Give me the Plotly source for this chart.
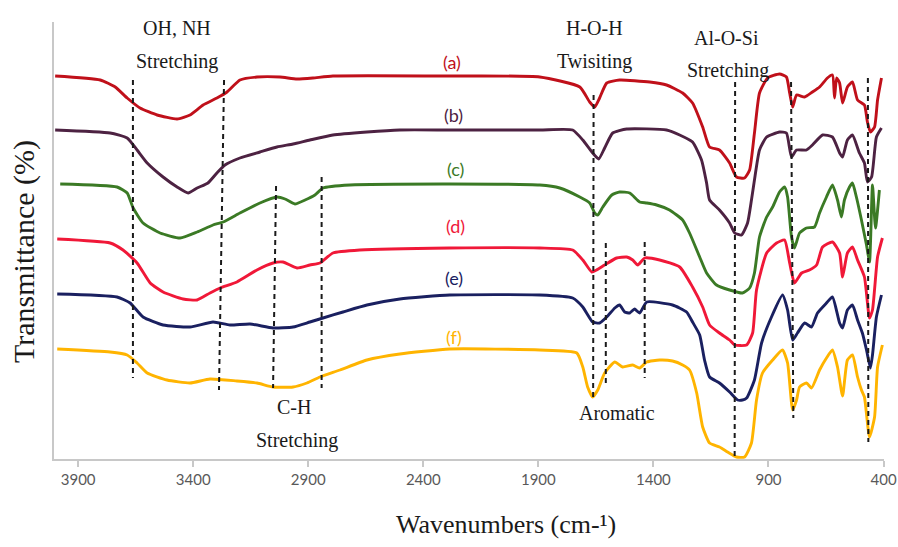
import plotly.graph_objects as go

# ---------------- data (wavenumber in cm-1, transmittance in arbitrary offset units) ----------------
wn_a = [4000, 3804, 3739, 3687, 3631, 3557, 3470, 3414, 3357, 3297, 3253, 3197, 3123, 3023, 2949, 2880, 2793, 2285,
        1894, 1720, 1677, 1655, 1634, 1603, 1547, 1416, 1343, 1273, 1230, 1186, 1156, 1113, 1069, 1039, 1004, 982, 961,
        939, 904, 852, 822, 808, 795, 778, 743, 709, 678, 644, 622, 613, 604, 591, 578, 557, 535, 513, 483, 470, 457,
        439, 426, 409]
t_a = [383, 379, 372, 361, 351, 344, 340, 344, 354, 361, 367, 379, 382, 382, 380, 381, 383, 383,
       382, 372, 357, 352, 361, 376, 379, 377, 374, 366, 356, 332, 312, 309, 296, 282, 281, 289, 326,
       366, 381, 385, 382, 366, 352, 364, 362, 367, 372, 381, 384, 361, 381, 376, 356, 372, 377, 359, 354, 337, 327,
       332, 359, 381]

wn_b = [4000, 3761, 3687, 3644, 3600, 3531, 3470, 3422, 3383, 3336, 3297, 3262, 3197, 3110, 3036, 2966, 2893, 2793,
        2645, 2502, 2285, 1894, 1751, 1707, 1664, 1638, 1612, 1577, 1516, 1343, 1286, 1230, 1191, 1169, 1156, 1113,
        1069, 1047, 1017, 991, 974, 961, 939, 908, 852, 822, 800, 778, 735, 709, 665, 622, 591, 578, 557, 535, 505,
        483, 470, 452, 431, 409]
t_b = [329, 326, 321, 309, 296, 282, 272, 266, 271, 276, 286, 294, 301, 307, 312, 315, 319, 324,
       327, 329, 329, 329, 329, 319, 306, 300, 311, 326, 330, 329, 324, 317, 299, 276, 259, 249,
       236, 226, 224, 236, 259, 279, 309, 322, 327, 326, 302, 309, 309, 314, 324, 322, 306, 302, 319, 324, 306,
       296, 277, 282, 322, 331]

wn_c = [3978, 3731, 3687, 3661, 3618, 3544, 3457, 3383, 3314, 3270, 3197, 3110, 3036, 3001, 2958, 2914, 2871, 2836,
        2719, 2285, 1894, 1807, 1720, 1677, 1655, 1642, 1620, 1581, 1547, 1503, 1460, 1429, 1386, 1330, 1273, 1243,
        1199, 1169, 1126, 1069, 1013, 982, 961, 939, 908, 882, 852, 830, 817, 800, 787, 765, 735, 700, 678, 648, 622,
        600, 583, 570, 548, 535, 518, 496, 474, 461, 448, 435, 418]
t_c = [275, 272, 266, 251, 236, 226, 221, 227, 234, 237, 246, 256, 262, 260, 255, 259, 264, 271,
       274, 275, 274, 271, 262, 256, 246, 244, 252, 264, 267, 266, 257, 256, 254, 249, 239, 226,
       202, 186, 174, 169, 166, 171, 186, 222, 242, 252, 267, 272, 262, 222, 211, 226, 231, 232, 246, 262, 274,
       259, 242, 259, 272, 276, 262, 239, 214, 197, 274, 231, 269]

wn_d = [3991, 3761, 3705, 3644, 3587, 3531, 3444, 3383, 3327, 3283, 3210, 3123, 3053, 3010, 2949, 2893, 2849, 2793,
        2676, 2285, 1894, 1751, 1707, 1668, 1647, 1612, 1560, 1516, 1490, 1468, 1438, 1373, 1286, 1230, 1186, 1156,
        1113, 1069, 1047, 995, 969, 952, 908, 865, 830, 808, 787, 756, 722, 691, 665, 622, 591, 578, 557, 535, 513,
        483, 461, 448, 426, 405]
t_d = [220, 216, 209, 196, 176, 167, 160, 159, 166, 171, 177, 189, 196, 197, 191, 194, 196, 206,
       209, 211, 211, 209, 199, 187, 189, 194, 201, 202, 199, 194, 201, 199, 192, 172, 152, 134,
       126, 119, 114, 114, 126, 169, 206, 216, 219, 196, 176, 186, 189, 194, 212, 217, 206, 182, 206, 212, 199,
       182, 141, 149, 202, 221]

wn_e = [3991, 3731, 3674, 3618, 3531, 3414, 3314, 3240, 3153, 3053, 2966, 2893, 2836, 2749, 2645, 2502, 2285, 1894,
        1751, 1707, 1664, 1634, 1603, 1568, 1547, 1525, 1503, 1482, 1460, 1429, 1317, 1256, 1230, 1199, 1178, 1156,
        1113, 1069, 1034, 1013, 995, 961, 930, 887, 839, 817, 795, 774, 743, 713, 687, 648, 622, 591, 578, 557, 535,
        513, 492, 474, 457, 448, 431, 409]
t_e = [165, 162, 156, 142, 134, 132, 137, 134, 135, 131, 132, 137, 141, 147, 154, 160, 164, 164,
       161, 152, 137, 136, 142, 151, 154, 147, 146, 150, 146, 157, 154, 147, 137, 124, 99, 82,
       76, 67, 59, 59, 61, 79, 116, 142, 164, 149, 119, 126, 136, 132, 146, 156, 162, 136, 131, 149, 154,
       139, 126, 109, 91, 104, 142, 164]

wn_f = [3991, 3761, 3687, 3644, 3600, 3514, 3414, 3327, 3210, 3123, 3053, 2966, 2906, 2849, 2762, 2645, 2502, 2285,
        1894, 1733, 1707, 1686, 1664, 1642, 1612, 1568, 1534, 1490, 1460, 1429, 1373, 1317, 1273, 1243, 1212, 1186,
        1156, 1113, 1078, 1039, 1004, 974, 952, 926, 882, 839, 817, 795, 778, 765, 735, 713, 678, 648, 622, 600, 578,
        557, 535, 513, 496, 483, 461, 439, 426, 405]
t_f = [110, 107, 104, 96, 86, 79, 76, 80, 78, 76, 72, 72, 76, 82, 89, 99, 105, 110,
       109, 106, 92, 72, 62, 69, 86, 97, 92, 94, 91, 97, 99, 98, 94, 89, 66, 32,
       16, 12, 7, 2, 2, 16, 59, 86, 99, 109, 96, 49, 59, 72, 76, 71, 89, 101, 109, 92, 63,
       99, 104, 82, 69, 62, 22, 42, 92, 114]

series_names = ["(a)", "(b)", "(c)", "(d)", "(e)", "(f)"]
series_colors = ["#c0101a", "#4d2242", "#3b7a25", "#f01838", "#1a2060", "#ffb400"]
series_wn = [wn_a, wn_b, wn_c, wn_d, wn_e, wn_f]
series_t = [t_a, t_b, t_c, t_d, t_e, t_f]
label_wn = [2275, 2270, 2262, 2262, 2266, 2266]
label_t = [397, 344, 290, 233, 181, 122]

# dashed marker lines
dash_wn_top = [3662, 3266, 3040, 2842, 1660, 1607, 1438, 1045, 802, 468]
dash_wn_bot = [3662, 3288, 3053, 2842, 1662, 1607, 1438, 1047, 792, 466]
dash_t_top = [379, 379, 273, 282, 364, 216, 217, 377, 377, 381]
dash_t_bot = [81, 69, 71, 71, 62, 73, 81, 1, 41, 17]

note_text = ["OH, NH", "Stretching", "H-O-H", "Twisiting", "Al-O-Si", "Stretching", "C-H", "Stretching", "Aromatic"]
note_wn = [3470, 3470, 1655, 1655, 1082, 1078, 2960, 2950, 1560]
note_t = [431, 398, 431, 398, 421, 389, 52, 19, 46]

tick_vals = [3900, 3400, 2900, 2400, 1900, 1400, 900, 400]
x_title = "Wavenumbers (cm-¹)"
y_title = "Transmittance (%)"

# ---------------- figure ----------------
fig = go.Figure()
for name, col, xs, ys in zip(series_names, series_colors, series_wn, series_t):
    fig.add_trace(go.Scatter(x=xs, y=ys, mode="lines", name=name,
                             line=dict(color=col, width=2.9, shape="spline", smoothing=0.5),
                             showlegend=False, hoverinfo="skip"))

shapes = []
for x0, x1, y0, y1 in zip(dash_wn_top, dash_wn_bot, dash_t_top, dash_t_bot):
    shapes.append(dict(type="line", xref="x", yref="y", x0=x0, x1=x1, y0=y0, y1=y1,
                       line=dict(color="#1a1a1a", width=2, dash="5px,4px"), layer="above"))

annotations = []
for txt, xw, yt in zip(note_text, note_wn, note_t):
    annotations.append(dict(x=xw, y=yt, xref="x", yref="y", text=txt, showarrow=False,
                            font=dict(family="Liberation Serif", size=20, color="#1a1a1a"),
                            xanchor="center", yanchor="middle"))
for name, col, xw, yt in zip(series_names, series_colors, label_wn, label_t):
    annotations.append(dict(x=xw, y=yt, xref="x", yref="y", text=name, showarrow=False,
                            font=dict(family="Lato", size=18, color=col),
                            xanchor="center", yanchor="middle"))
annotations.append(dict(x=0.5446, y=-0.151, xref="paper", yref="paper", text=x_title, showarrow=False,
                        font=dict(family="Liberation Serif", size=26, color="#1a1a1a"),
                        xanchor="center", yanchor="middle"))
annotations.append(dict(x=-0.036, y=0.474, xref="paper", yref="paper", text=y_title, showarrow=False,
                        textangle=-90,
                        font=dict(family="Liberation Serif", size=30, color="#1a1a1a"),
                        xanchor="center", yanchor="middle"))

fig.update_layout(
    width=898, height=547,
    margin=dict(l=54, r=14, t=22, b=88),
    paper_bgcolor="white", plot_bgcolor="white",
    shapes=shapes, annotations=annotations,
    xaxis=dict(range=[4005, 398], tickmode="array", tickvals=tick_vals,
               ticktext=[str(v) for v in tick_vals], automargin=False,
               showline=True, linecolor="#c8c8c8", linewidth=2,
               ticks="outside", ticklen=6, tickcolor="#c8c8c8", tickwidth=1.5,
               showgrid=False, zeroline=False,
               tickfont=dict(family="Lato", size=15, color="#595959")),
    yaxis=dict(range=[0, 437], showline=True, linecolor="#c8c8c8", linewidth=2, automargin=False,
               showticklabels=False, ticks="", showgrid=False, zeroline=False),
)

fig.write_html("out.html", config={"displayModeBar": False},
               post_script="document.body.style.margin='0px'; document.body.style.overflow='hidden';")
